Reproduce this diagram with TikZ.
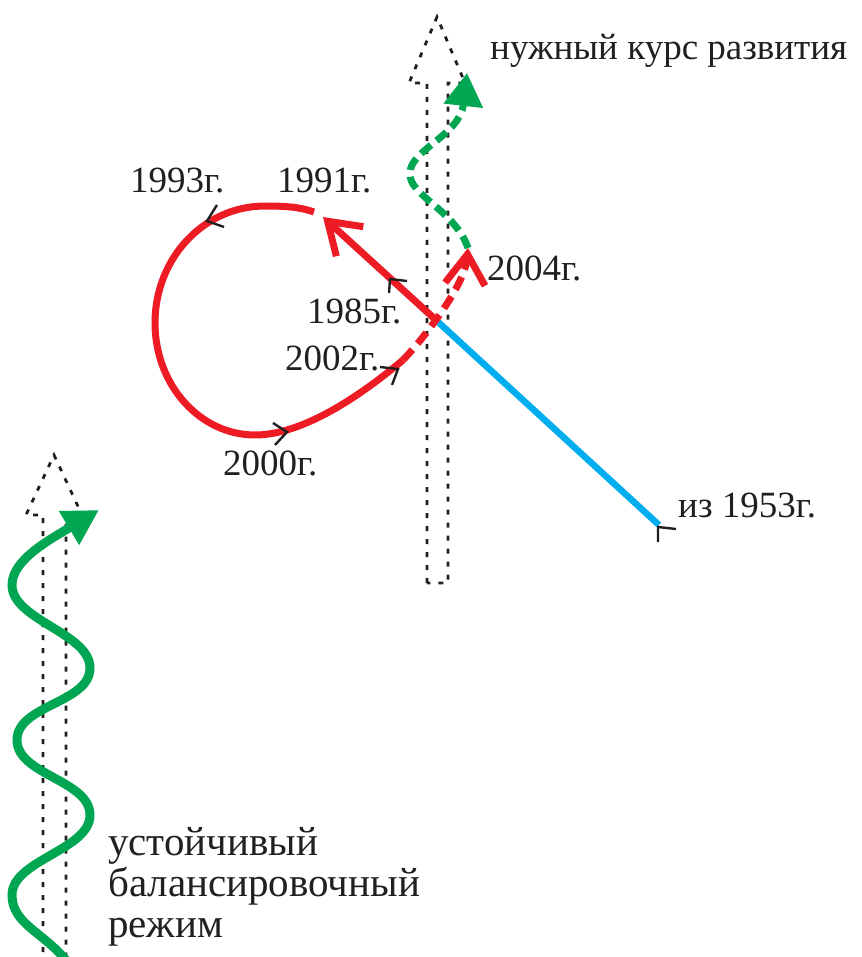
\documentclass[tikz,border=0pt]{standalone}
\usepackage{fontspec}
\setmainfont{Liberation Serif}
\usetikzlibrary{arrows.meta}
\definecolor{lred}{RGB}{237,28,36}
\definecolor{lgreen}{RGB}{0,166,81}
\definecolor{lcyan}{RGB}{0,174,239}
\definecolor{ink}{RGB}{35,31,32}

\begin{document}
\begin{tikzpicture}[x=1pt, y=-1pt, font=\fontsize{37}{41}\selectfont,
	every node/.style={text=ink, inner sep=0pt, anchor=base west},
	course/.style={draw=ink, line width=2.8pt, dash pattern=on 5pt off 8pt},
	redline/.style={draw=lred, line width=7pt},
	greenline/.style={draw=lgreen, line width=9pt},
	dirtick/.style={draw=ink, line width=2.4pt},
	barb/.style={-{Straight Barb[length=30pt,width=40pt]}}]
	\useasboundingbox (0,0) rectangle (861,957);
	\draw[course] (427,583) -- (427,83) -- (409,83) -- (437,17) -- (465,83) -- (448,83) -- (448,583) -- cycle;
	\draw[course] (43,965) -- (43,515) -- (26,515) -- (54,455) -- (82,515) -- (66,515) -- (66,965);
	\coordinate (y1953) at (659,525);
	\coordinate (y1985) at (437,321);
	\coordinate (y1991) at (323,217);
	\coordinate (y2002) at (403,360);
	\coordinate (y2004) at (468,248);
	\coordinate (goal) at (467,73);
	\coordinate (stable) at (99,510);
	\draw[draw=lcyan, line width=6.5pt] (y1953) -- (y1985);
	\draw[redline, barb] (y1985) -- (y1991);
	\draw[redline] (314,212) .. controls (300,207) and (285,206) .. (265,206) .. controls (204,206) and (155,258) .. (155,323) .. controls (155,385) and (200,435) .. (255,435) .. controls (305,435) and (365,392) .. (y2002);
	\draw[redline, dash pattern=on 14pt off 8pt, barb] (y2002) .. controls (425,337) and (465,285) .. (y2004);
	\draw[greenline, line width=7pt, dash pattern=on 13pt off 7pt, -{Triangle[length=33pt,width=38pt]}] (y2004) .. controls (455,210) and (408,195) .. (410,173) .. controls (410,150) and (460,135) .. (goal);
	\draw[greenline, -{Triangle[length=35pt,width=37pt]}] (70,965) .. controls (45,932) and (12,925) .. (12,895) .. controls (12,860) and (90,850) .. (90,815) .. controls (90,780) and (17,775) .. (17,740) .. controls (17,705) and (90,703) .. (90,668) .. controls (90,633) and (12,620) .. (12,585) .. controls (12,560) and (49,540) .. (stable);
	\foreach \a/\b/\c in {{(217,205)/(207,221)/(224,227)}, {(273,423)/(287,432)/(275,445)}, {(380,367)/(398,369)/(392,385)}, {(389,293)/(390,279)/(407,281)}, {(658,542)/(658,527)/(676,529)}} \draw[dirtick] \a -- \b -- \c;
	\node at (490,60) {нужный курс развития};
	\node at (130,193) {1993г.};
	\node at (277,193) {1991г.};
	\node at (307,323) {1985г.};
	\node at (285,370) {2002г.};
	\node at (223,475) {2000г.};
	\node at (487,280) {2004г.};
	\node at (678,517) {из 1953г.};
	\node[align=left, font=\fontsize{41}{41}\selectfont] at (108,937) {устойчивый\\балансировочный\\режим};
\end{tikzpicture}
\end{document}
